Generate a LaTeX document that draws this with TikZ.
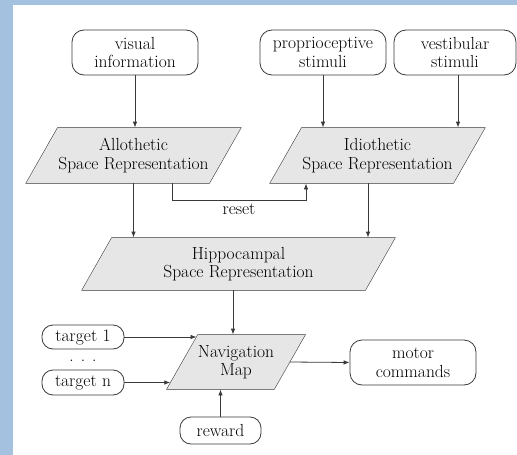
\documentclass[tikz,border=0pt]{standalone}
\usetikzlibrary{arrows.meta,calc,backgrounds}
\definecolor{linec}{HTML}{3A3A3A}
\definecolor{parafill}{HTML}{E6E6E6}
\definecolor{bluec}{HTML}{A5C1E0}
\begin{document}
\begin{tikzpicture}[x=1pt,y=-1pt,
  font=\fontsize{17.5}{18.5}\selectfont,
  line width=0.8pt,
  box/.style={draw=linec, rounded corners=12pt, align=center, inner sep=0pt},
  pill/.style={draw=linec, rounded corners=11pt, align=center, inner sep=0pt},
  paratext/.style={align=center, inner sep=0pt},
  arr/.style={draw=linec, -{Latex[length=6pt,width=4.5pt]}}]
\useasboundingbox (0,0) rectangle (517,455);

% sources
\node[box, minimum width=126pt, minimum height=45pt] (vis) at (135,52.5) {visual\\information};
\node[box, minimum width=126pt, minimum height=45pt] (prop) at (323,52.5) {proprioceptive\\stimuli};
\node[box, minimum width=122pt, minimum height=45pt] (vest) at (455,52.5) {vestibular\\stimuli};

% representations
\node[paratext, minimum width=183pt, minimum height=55pt] (allo) at (133.5,155.5) {Allothetic\\Space Representation};
\node[paratext, minimum width=183pt, minimum height=55pt] (idio) at (377.5,155.5) {Idiothetic\\Space Representation};
\node[paratext, minimum width=283pt, minimum height=52pt] (hip) at (238.5,264) {Hippocampal\\Space Representation};
\node[paratext, minimum width=107pt, minimum height=54pt] (nav) at (236,362) {Navigation\\Map};

\begin{scope}[on background layer]
  \fill[white] (0,0) rectangle (517,455);
  \fill[bluec] (0,0) rectangle (13,455);
  \fill[bluec] (0,0) rectangle (517,5);
  \foreach \n/\s in {allo/15.9, idio/15.9, hip/15, nav/15.6}
    \draw[linec, fill=parafill] ([xshift=-\s pt]\n.south west) -- ([xshift=-\s pt]\n.south east)
      -- ([xshift=\s pt]\n.north east) -- ([xshift=\s pt]\n.north west) -- cycle;
\end{scope}

% targets etc
\node[pill, minimum width=82pt, minimum height=24pt] (t1) at (83,337) {target 1};
\node[inner sep=0pt] (dots) at (83,361) {.\hspace{7pt}.\hspace{7pt}.};
\node[pill, minimum width=82pt, minimum height=25pt] (tn) at (83,382.5) {target n};
\node[pill, minimum width=81pt, minimum height=27pt] (rew) at (220.5,430.5) {reward};
\node[box, minimum width=126pt, minimum height=45pt] (mot) at (413,362.5) {motor\\commands};

% connectors
\draw[arr] (vis.south) -- (vis.south |- allo.north);
\draw[arr] (prop.south) -- (prop.south |- idio.north);
\draw[arr] ([xshift=3pt]vest.south) -- ([xshift=3pt]vest.south |- idio.north);
\draw[arr] (allo.south) -- (allo.south |- hip.north);
\coordinate (io) at ([xshift=-9.5pt]idio.south);
\draw[arr] (io) -- (io |- hip.north);
\coordinate (ra) at ([xshift=38.5pt]allo.south);
\coordinate (rb) at ([xshift=-71.5pt]idio.south);
\draw[arr] (ra) -- ++(0,17) -| (rb) node[pos=0.25, below=1pt, inner sep=2pt] (reset) {reset};
\coordinate (hn) at ([xshift=-3pt]nav.north);
\draw[arr] (hn |- hip.south) -- (hn);
\coordinate (t1e) at ([xshift=14.4pt]nav.west);
\coordinate (tne) at ([xshift=-11.8pt]nav.west);
\draw[arr] (t1.east) -- (t1.east -| t1e);
\draw[arr] (tn.east) -- (tn.east -| tne);
\draw[arr] (rew.north) -- (rew.north |- nav.south);
\draw[arr] (nav.east) -- (mot.west);
\end{tikzpicture}
\end{document}
